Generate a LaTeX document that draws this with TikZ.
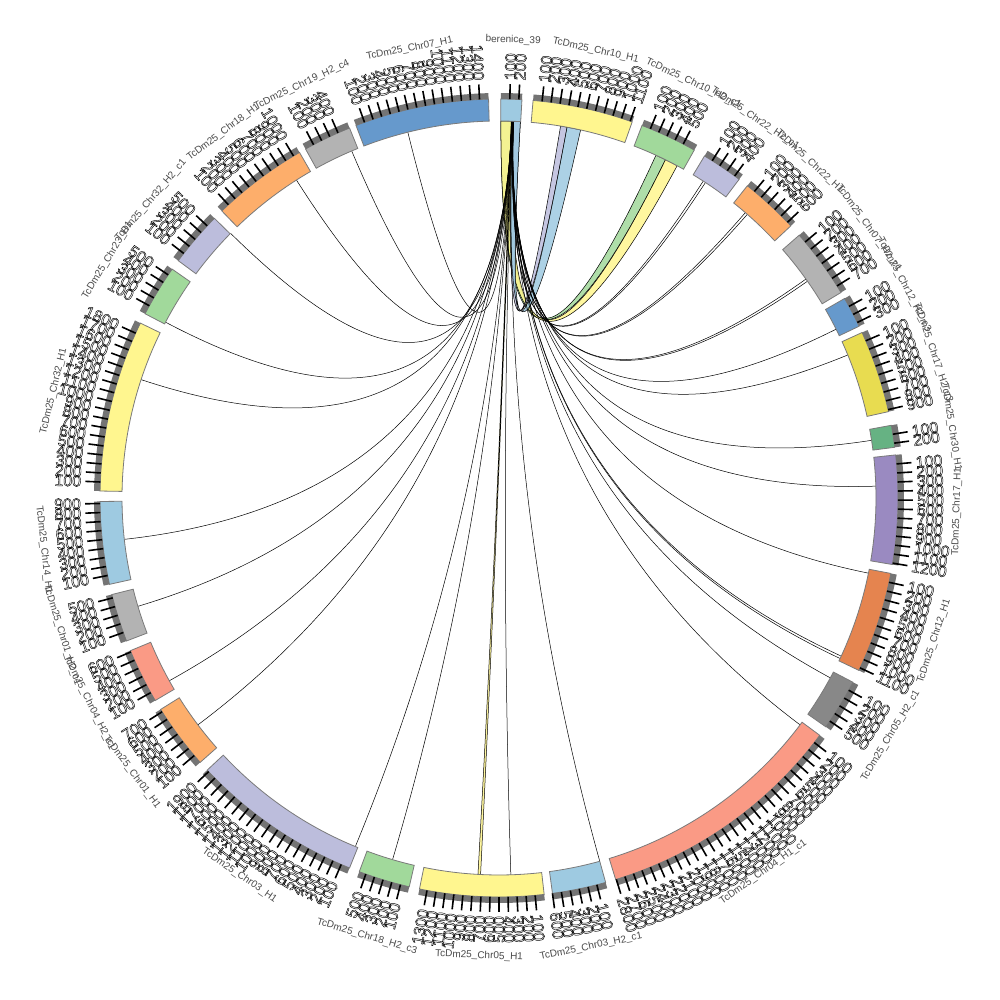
\documentclass[tikz,border=0pt]{standalone}
\usepackage{fontspec}
\setmainfont{Liberation Sans}
\definecolor{cLB}{HTML}{9ECAE1}
\definecolor{cLY}{HTML}{FFF68F}
\definecolor{cG}{HTML}{A1D99B}
\definecolor{cLav}{HTML}{BCBDDC}
\definecolor{cLO}{HTML}{FDAE6B}
\definecolor{cLG}{HTML}{B3B3B3}
\definecolor{cBl}{HTML}{6699CC}
\definecolor{cDY}{HTML}{E8DC50}
\definecolor{cMG}{HTML}{66B283}
\definecolor{cPu}{HTML}{9A8AC1}
\definecolor{cOr}{HTML}{E5844F}
\definecolor{cDG}{HTML}{888888}
\definecolor{cSa}{HTML}{FA9A85}
\definecolor{segline}{HTML}{7A7A7A}
\definecolor{bandgrey}{HTML}{747474}
\definecolor{namegrey}{HTML}{4A4A4A}
\def\rA{377pt}\def\rB{399pt}\def\rC{405pt}\def\rT{414pt}\def\rL{418pt}\def\rN{458pt}\def\rQ{125.667pt}
\def\tstep{1.3}
\newcommand\hollow[1]{\special{pdf:literal direct 1 Tr 0.45 w}#1\special{pdf:literal direct 0 Tr}}
\tikzset{
  segbox/.style={draw=segline, line width=0.8pt},
  band/.style={fill=bandgrey},
  tickline/.style={line width=1.6pt, black},
  ticklab/.style={inner sep=0pt, font=\fontsize{16}{16}\selectfont},
  namelab/.style={inner sep=0pt, text=namegrey, font=\fontsize{10}{10}\selectfont},
  linkline/.style={line width=0.5pt, black},
  ribbon/.style={draw=black, line width=0.5pt, fill opacity=0.85},
}
\newcommand\ideo[6]{%
  \pgfmathsetmacro\angA{90-#2}%
  \pgfmathsetmacro\angB{90-#3}%
  \path[fill=#5, segbox] (\angA:\rA) arc[start angle=\angA, end angle=\angB, radius=\rA] -- (\angB:\rB) arc[start angle=\angB, end angle=\angA, radius=\rB] -- cycle;
  \path[band] (\angA:\rB) arc[start angle=\angA, end angle=\angB, radius=\rB] -- (\angB:\rC) arc[start angle=\angB, end angle=\angA, radius=\rC] -- cycle;
  \foreach \ii in {1,...,#4}{%
    \pgfmathsetmacro\tha{#2+\ii*\tstep}%
    \pgfmathsetmacro\phh{90-\tha}%
    \draw[tickline] (\phh:\rB) -- (\phh:\rT);
    \pgfmathtruncatemacro\side{\tha<180 ? 1 : 0}%
    \ifnum\side=1
      \node[ticklab, anchor=west, rotate=\phh] (t#1-\ii) at (\phh:\rL) {\hollow{\ii00}};
    \else
      \node[ticklab, anchor=east, rotate=\phh+180] (t#1-\ii) at (\phh:\rL) {\hollow{\ii00}};
    \fi
  }%
  \pgfmathsetmacro\tmid{(#2+#3)/2}%
  \pgfmathsetmacro\pmid{90-\tmid}%
  \pgfmathtruncatemacro\islow{(\tmid>=90)*(\tmid<270)}%
  \ifnum\islow=1 \pgfmathsetmacro\rot{180-\tmid}\else\pgfmathsetmacro\rot{-\tmid}\fi
  \node[namelab, rotate=\rot] (n#1) at (\pmid:\rN) {#6};
}
\newcommand\lnk[3][]{%
  \pgfmathsetmacro\angA{90-#2}\pgfmathsetmacro\angB{90-#3}%
  \draw[linkline,#1] (\angA:\rA) .. controls (\angA:\rQ) and (\angB:\rQ) .. (\angB:\rA);
}
\newcommand\rib[5]{%
  \pgfmathsetmacro\angA{90-#2}\pgfmathsetmacro\angB{90-#3}\pgfmathsetmacro\angC{90-#4}\pgfmathsetmacro\angD{90-#5}%
  \path[ribbon, fill=#1] (\angA:\rA) .. controls (\angA:\rQ) and (\angD:\rQ) .. (\angD:\rA) arc[start angle=\angD, end angle=\angC, radius=\rA] .. controls (\angC:\rQ) and (\angB:\rQ) .. (\angB:\rA) arc[start angle=\angB, end angle=\angA, radius=\rA] -- cycle;
}
\begin{document}
\begin{tikzpicture}
\useasboundingbox[fill=white] (0,0) rectangle (1000pt,1000pt);
\begin{scope}[shift={(499pt,502pt)}]
% ribbons
\rib{cG}{0.3}{2.05}{24.6}{26.2}
\rib{cLY}{0.3}{2.05}{26.2}{28.2}
\rib{cLav}{2.1}{3.25}{9.4}{10.4}
\rib{cLB}{2.1}{3.25}{10.4}{12.5}
\rib{cLY}{1.85}{2.0}{182.8}{183.2}
% thin links
\lnk{1.90}{346}
\lnk{1.91}{337}
\lnk{1.92}{327.5}
\lnk{1.93}{314.6}
\lnk{1.94}{297.8}
\lnk{1.95}{288.3}
\lnk{1.96}{263.7}
\lnk{1.97}{253.3}
\lnk{1.98}{241}
\lnk{1.99}{233}
\lnk{2.0}{202.4}
\lnk{2.01}{196.4}
\lnk{2.03}{178.2}
\lnk{2.05}{164.5}
\lnk{2.07}{127}
\lnk{2.08}{118.5}
\lnk{2.09}{115.2}
\lnk{2.12}{114.8}
\lnk{2.13}{101.5}
\lnk{2.14}{88.2}
\lnk{2.15}{81.2}
\lnk{2.16}{67.7}
\lnk{2.17}{63.4}
\lnk{2.18}{54.9}
\lnk{2.21}{54.5}
\lnk{2.19}{41.2}
\lnk{2.22}{40.8}
\lnk{2.20}{33.2}
\lnk{2.23}{32.8}
% ideograms
\ideo{s1}{0.25}{3.3}{2}{cLB}{berenice\_39}
\ideo{s2}{4.9}{19.5}{11}{cLY}{TcDm25\_Chr10\_H1}
\ideo{s3}{21.0}{29.3}{5}{cG}{TcDm25\_Chr10\_H2\_c1}
\ideo{s4}{31.0}{37.0}{4}{cLav}{TcDm25\_Chr22\_H2\_c1}
\ideo{s5}{38.5}{47.0}{6}{cLO}{TcDm25\_Chr22\_H1}
\ideo{s6}{48.8}{59.0}{7}{cLG}{TcDm25\_Chr07\_H2\_c1}
\ideo{s7}{60.0}{64.5}{3}{cBl}{TcDm25\_Chr12\_H2\_c3}
\ideo{s8}{65.5}{77.5}{9}{cDY}{TcDm25\_Chr17\_H2\_c3}
\ideo{s9}{79.5}{82.7}{2}{cMG}{TcDm25\_Chr30\_H1}
\ideo{s10}{83.8}{99.6}{12}{cPu}{TcDm25\_Chr17\_H1}
\ideo{s11}{100.9}{115.6}{11}{cOr}{TcDm25\_Chr12\_H1}
\ideo{s12}{117.5}{125.0}{5}{cDG}{TcDm25\_Chr05\_H2\_c1}
\ideo{s13}{126.5}{163.0}{28}{cSa}{TcDm25\_Chr04\_H1\_c1}
\ideo{s14}{164.5}{172.3}{6}{cLB}{TcDm25\_Chr03\_H2\_c1}
\ideo{s15}{173.5}{191.5}{13}{cLY}{TcDm25\_Chr05\_H1}
\ideo{s16}{193.0}{200.5}{5}{cG}{TcDm25\_Chr18\_H2\_c3}
\ideo{s17}{202.0}{227.0}{19}{cLav}{TcDm25\_Chr03\_H1}
\ideo{s18}{228.5}{238.0}{7}{cLO}{TcDm25\_Chr01\_H1}
\ideo{s19}{239.5}{247.5}{6}{cSa}{TcDm25\_Chr04\_H2\_c1}
\ideo{s20}{249.0}{256.0}{5}{cLG}{TcDm25\_Chr01\_H2\_c1}
\ideo{s21}{257.5}{269.5}{9}{cLB}{TcDm25\_Chr14\_H1}
\ideo{s22}{271.0}{296.0}{18}{cLY}{TcDm25\_Chr32\_H1}
\ideo{s23}{297.5}{305.0}{5}{cG}{TcDm25\_Chr23\_H1}
\ideo{s24}{306.5}{314.5}{5}{cLav}{TcDm25\_Chr32\_H2\_c1}
\ideo{s25}{316.0}{330.0}{10}{cLO}{TcDm25\_Chr18\_H1}
\ideo{s26}{331.0}{338.0}{4}{cLG}{TcDm25\_Chr19\_H2\_c4}
\ideo{s27}{339.0}{358.5}{14}{cBl}{TcDm25\_Chr07\_H1}
\end{scope}
\end{tikzpicture}
\end{document}
